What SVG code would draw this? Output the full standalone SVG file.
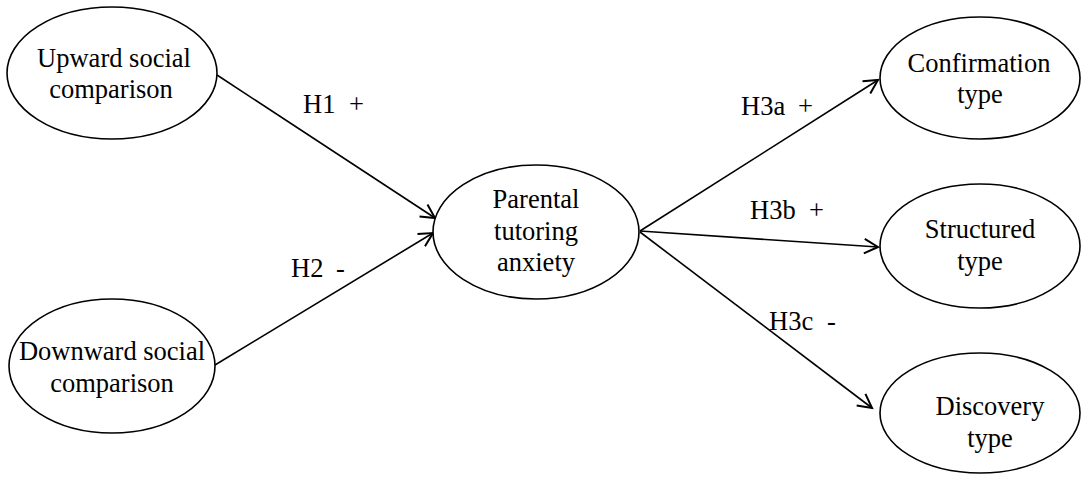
<svg xmlns="http://www.w3.org/2000/svg" width="1084" height="484" viewBox="0 0 1084 484">
<style>
.node ellipse{fill:#fff;stroke:#000;stroke-width:1.6}
.node text,.lbl{font-family:"Liberation Serif","Times New Roman","DejaVu Serif",serif;font-size:26.5px;fill:#000;text-anchor:middle}
.lbl{text-anchor:start}
.edge{stroke:#000;stroke-width:1.6;fill:none;marker-end:url(#arr)}
</style>
<defs>
<marker id="arr" markerUnits="userSpaceOnUse" markerWidth="20" markerHeight="20" viewBox="-14 -8 16 16" refX="0" refY="0" orient="auto">
<path d="M-11,-5.8 L0,0 L-11,5.8" fill="none" stroke="#000" stroke-width="1.6"/>
</marker>
</defs>
<rect width="1084" height="484" fill="#fff"/>
<g id="connectors">
<line class="edge" x1="217" y1="75" x2="435" y2="218"/>
<line class="edge" x1="215" y1="365" x2="433" y2="233"/>
<line class="edge" x1="640" y1="231" x2="878" y2="80"/>
<line class="edge" x1="640" y1="231" x2="878" y2="247"/>
<line class="edge" x1="640" y1="232" x2="872" y2="408"/>
<text class="lbl" y="113"><tspan x="303">H1</tspan><tspan x="349">+</tspan></text>
<text class="lbl" y="277"><tspan x="291">H2</tspan><tspan x="336">-</tspan></text>
<text class="lbl" y="115"><tspan x="741">H3a</tspan><tspan x="798">+</tspan></text>
<text class="lbl" y="219"><tspan x="750">H3b</tspan><tspan x="809">+</tspan></text>
<text class="lbl" y="330"><tspan x="769">H3c</tspan><tspan x="827">-</tspan></text>
</g>
<g id="upward" class="node">
<ellipse cx="112" cy="73" rx="105" ry="66"/>
<text x="114" y="67">Upward social</text>
<text x="111" y="98">comparison</text>
</g>
<g id="downward" class="node">
<ellipse cx="112" cy="366" rx="103" ry="67"/>
<text x="112" y="360">Downward social</text>
<text x="112" y="392">comparison</text>
</g>
<g id="parental" class="node">
<ellipse cx="536" cy="232" rx="103" ry="67"/>
<text x="536" y="208">Parental</text>
<text x="536" y="240">tutoring</text>
<text x="536" y="271">anxiety</text>
</g>
<g id="confirmation" class="node">
<ellipse cx="980" cy="78" rx="100" ry="61"/>
<text x="979" y="72">Confirmation</text>
<text x="980" y="103">type</text>
</g>
<g id="structured" class="node">
<ellipse cx="980" cy="246" rx="100" ry="62"/>
<text x="980" y="238">Structured</text>
<text x="980" y="270">type</text>
</g>
<g id="discovery" class="node">
<ellipse cx="980" cy="413" rx="100" ry="60"/>
<text x="990" y="415">Discovery</text>
<text x="990" y="447">type</text>
</g>
</svg>
